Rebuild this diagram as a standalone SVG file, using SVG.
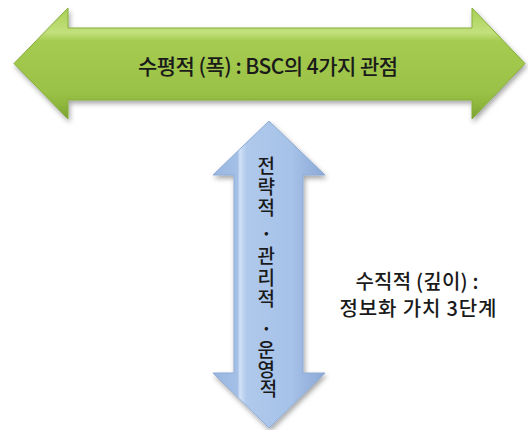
<svg xmlns="http://www.w3.org/2000/svg" width="528" height="430" viewBox="0 0 528 430">
<defs>
<linearGradient id="gGreen" x1="0" y1="0" x2="0" y2="1">
<stop offset="0" stop-color="#a8cf55"/>
<stop offset="0.22" stop-color="#c2e07c"/>
<stop offset="0.3" stop-color="#a5cb50"/>
<stop offset="0.75" stop-color="#9bc247"/>
<stop offset="0.88" stop-color="#8db63c"/>
<stop offset="1" stop-color="#7aa032"/>
</linearGradient>
<linearGradient id="gBlue" x1="0" y1="0" x2="1" y2="0">
<stop offset="0" stop-color="#98b6e0"/>
<stop offset="0.22" stop-color="#a4c0e7"/>
<stop offset="0.24" stop-color="#d2e2f6"/>
<stop offset="0.3" stop-color="#afc9ec"/>
<stop offset="0.7" stop-color="#a7c2e8"/>
<stop offset="0.8" stop-color="#9db9e2"/>
<stop offset="1" stop-color="#8aa9d6"/>
</linearGradient>
<filter id="shadow" x="-10%" y="-10%" width="120%" height="125%">
<feDropShadow dx="1.5" dy="3" stdDeviation="2.5" flood-color="#000" flood-opacity="0.35"/>
</filter>
<style>
.lbl{font-family:"Noto Sans CJK KR","Noto Sans",sans-serif;fill:#1a1a1a;font-weight:500;}
.h{font-size:21px;}
.v{font-size:19px;}
.r{font-size:20px;}
.dot{font-weight:700;}
</style>
</defs>
<g id="arrow-horizontal">
<path d="M14,63.5 L68,8 L68,28 L472,28 L472,8 L525,63.5 L472,119 L472,100 L68,100 L68,119 Z" fill="url(#gGreen)" stroke="#86ad3c" stroke-width="1" filter="url(#shadow)"/>
<text class="lbl h" x="268" y="65" text-anchor="middle" dominant-baseline="central" textLength="260" lengthAdjust="spacing">수평적 (폭) : BSC의 4가지 관점</text>
</g>
<g id="arrow-vertical">
<path d="M269,121 L325,175 L303,175 L303,373 L325,373 L269,428 L213,373 L234,373 L234,175 L213,175 Z" fill="url(#gBlue)" stroke="#8eabd6" stroke-width="1" filter="url(#shadow)"/>
<text class="lbl v" text-anchor="middle" dominant-baseline="central">
<tspan x="268.5" y="163.5">전</tspan>
<tspan x="268.5" y="184.5">략</tspan>
<tspan x="268.5" y="206">적</tspan>
<tspan class="dot" x="268.5" y="232">·</tspan>
<tspan x="268.5" y="254">관</tspan>
<tspan x="268.5" y="275.5">리</tspan>
<tspan x="268.5" y="297">적</tspan>
<tspan class="dot" x="268.5" y="327">·</tspan>
<tspan x="268.5" y="347.5">운</tspan>
<tspan x="268.5" y="367.5">영</tspan>
<tspan x="268.5" y="387">적</tspan>
</text>
</g>
<g id="label-depth">
<text class="lbl r" x="417" y="280.5" text-anchor="middle" dominant-baseline="central" textLength="123" lengthAdjust="spacing">수직적 (깊이) :</text>
<text class="lbl r" x="418" y="307" text-anchor="middle" dominant-baseline="central" textLength="157" lengthAdjust="spacing">정보화 가치 3단계</text>
</g>
</svg>
